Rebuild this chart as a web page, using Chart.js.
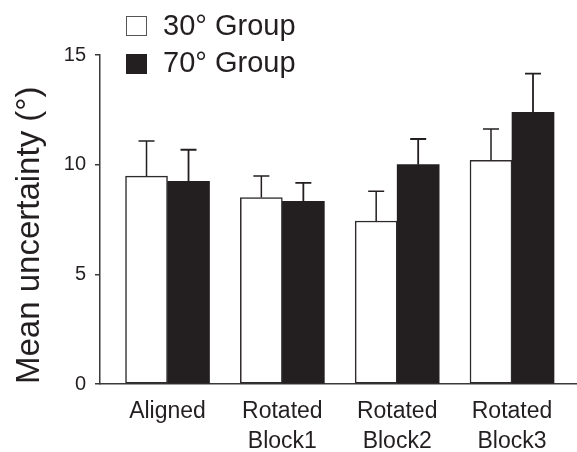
<!DOCTYPE html>
<html>
<head>
<meta charset="utf-8">
<script src="https://cdn.jsdelivr.net/npm/chart.js@4.4.0/dist/chart.umd.min.js"></script>
<style>
  body { margin: 0; background: #fff; }
  #boite { position: relative; width: 577px; height: 452px; }
  #legende { position: absolute; left: 126px; top: 0; font-family: "Liberation Sans", Arial, sans-serif; font-size: 29px; color: #231f20; }
  .item { position: absolute; left: 0; white-space: nowrap; line-height: 29px; }
  .carre { position: absolute; left: 0; width: 21px; height: 20px; box-sizing: border-box; }
  .texte { position: absolute; left: 37px; }
</style>
</head>
<body>
<div id="boite">
  <canvas id="graphe" width="577" height="452"></canvas>
  <div id="legende"></div>
</div>
<script>
// donnees
const categories = [["Aligned"], ["Rotated", "Block1"], ["Rotated", "Block2"], ["Rotated", "Block3"]];
const groupe30 = [9.48, 8.50, 7.43, 10.20];
const groupe70 = [9.24, 8.33, 10.00, 12.39];
const erreur30 = [1.60, 0.98, 1.36, 1.43];
const erreur70 = [1.44, 0.84, 1.17, 1.76];
const ticksY = [0, 5, 10, 15];

const noir = "#231f20";
const police = "'Liberation Sans', Arial, sans-serif";

// position de chaque groupe sur l'axe x
const positions = categories.map((c, i) => i);

function points(valeurs) {
    return valeurs.map((v, i) => ({ x: positions[i], y: v }));
}

// barres d'erreur (vers le haut seulement)
const barresErreur = {
    id: "barresErreur",
    afterDatasetsDraw(chart) {
        const ctx = chart.ctx;
        const y = chart.scales.y;
        chart.data.datasets.forEach((ds, i) => {
            const meta = chart.getDatasetMeta(i);
            meta.data.forEach((barre, j) => {
                const haut = y.getPixelForValue(ds.data[j].y + ds.erreurs[j]);
                ctx.save();
                ctx.strokeStyle = noir;
                ctx.lineWidth = ds.epaisseurErreur;
                ctx.beginPath();
                ctx.moveTo(barre.x, barre.y);
                ctx.lineTo(barre.x, haut);
                ctx.moveTo(barre.x - 8, haut);
                ctx.lineTo(barre.x + 8, haut);
                ctx.stroke();
                ctx.restore();
            });
        });
    }
};

const chart = new Chart(document.getElementById("graphe"), {
    type: "bar",
    data: {
        datasets: [
            {
                label: "30° Group",
                data: points(groupe30),
                erreurs: erreur30,
                epaisseurErreur: 1.5,
                backgroundColor: "#ffffff",
                borderColor: "#2e2a2b",
                borderWidth: 1.5,
                borderSkipped: false
            },
            {
                label: "70° Group",
                data: points(groupe70),
                erreurs: erreur70,
                epaisseurErreur: 1.8,
                backgroundColor: noir,
                borderColor: noir,
                borderWidth: 0
            }
        ]
    },
    options: {
        responsive: false,
        devicePixelRatio: 1,
        animation: false,
        layout: { padding: { top: 55, left: 0, right: 0, bottom: 0 } },
        plugins: { legend: { display: false }, tooltip: { enabled: false } },
        datasets: { bar: { barThickness: 42 } },
        scales: {
            x: {
                type: "linear",
                min: -0.588,
                max: 3.566,
                offset: false,
                grid: { display: false, offset: false },
                border: { display: true, color: "#3a3a3a", width: 1.5 },
                afterBuildTicks: s => { s.ticks = positions.map(v => ({ value: v })); },
                afterFit: s => { s.height = 68; },
                ticks: {
                    autoSkip: false,
                    maxRotation: 0,
                    padding: 5,
                    color: noir,
                    font: { family: police, size: 23, lineHeight: 1.3 },
                    callback: (v, i) => categories[i]
                }
            },
            y: {
                min: 0,
                max: 15,
                afterBuildTicks: s => { s.ticks = ticksY.map(v => ({ value: v })); },
                afterFit: s => { s.width = 100; },
                grid: { drawOnChartArea: false, drawTicks: true, tickLength: 5, color: "#3a3a3a", lineWidth: 1.5 },
                border: { display: true, color: "#3a3a3a", width: 1.5 },
                ticks: {
                    padding: 9,
                    color: noir,
                    font: { family: police, size: 20 }
                },
                title: {
                    display: true,
                    text: "Mean uncertainty (°)",
                    align: "start",
                    color: noir,
                    font: { family: police, size: 33, lineHeight: 1.2 },
                    padding: { top: 10, bottom: 0 }
                }
            }
        }
    },
    plugins: [barresErreur]
});

// legende
var html = "";
chart.data.datasets.forEach((ds, i) => {
    var haut = 11 + i * 37;
    var bord = ds.backgroundColor == "#ffffff" ? "1.5px solid #555" : "none";
    html += "<div class='item' style='top:" + haut + "px'>";
    html += "<div class='carre' style='top:" + (5 + (i ? 1 : 0)) + "px;background:" + ds.backgroundColor + ";border:" + bord + "'></div>";
    html += "<span class='texte'>" + ds.label + "</span></div>";
});
document.getElementById("legende").innerHTML = html;
</script>
</body>
</html>
